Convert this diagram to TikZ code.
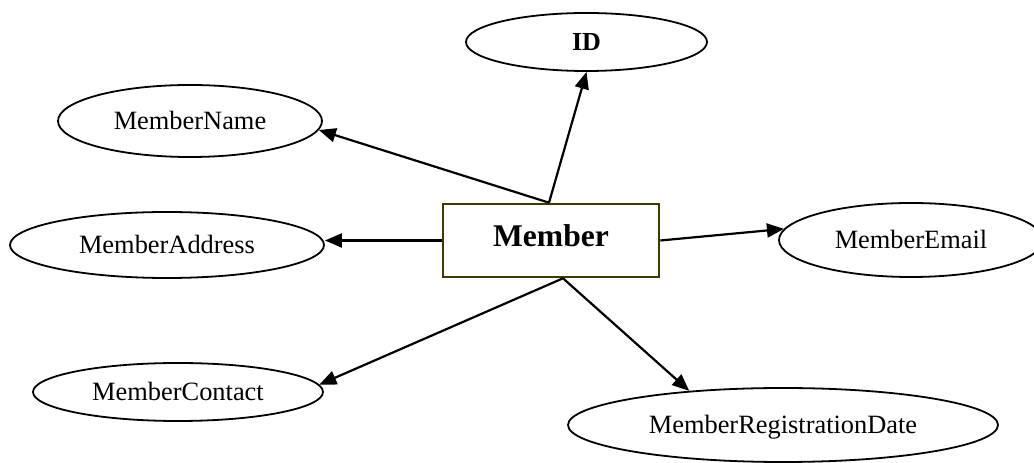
\documentclass[tikz,border=0pt]{standalone}
\usepackage{fontspec}
\setmainfont{Liberation Serif}
\usetikzlibrary{shapes.geometric,arrows.meta,calc}
\definecolor{entityborder}{RGB}{62,58,0}
\begin{document}
\begin{tikzpicture}[x=1pt,y=1pt,
  attr/.style n args={2}{draw=black, line width=1.8pt, ellipse, inner sep=0pt,
    minimum width=#1, minimum height=#2, text height=17.5pt, text depth=0pt,
    font=\fontsize{26.4}{30}\selectfont},
  entity/.style={draw=entityborder, line width=2.6pt, rectangle, inner sep=0pt,
    minimum width=216, minimum height=73, text height=20.9pt, text depth=8pt,
    font=\fontsize{31.6}{36}\selectfont\bfseries},
  link/.style={line width=2.2pt, -{Triangle[length=17pt,width=14pt]}}]
\useasboundingbox (0,0) rectangle (1034,463);

% entity and its attributes
\node[entity] (member) at (551,222.5) {Member};
\node[attr={241}{58}, font=\fontsize{26}{30}\selectfont\bfseries] (id) at (586.5,421) {ID};
\node[attr={264}{72}] (name) at (190,342) {MemberName};
\node[attr={314}{66}] (address) at (167,218) {MemberAddress};
\node[attr={264}{74}] (email) at (911,223) {MemberEmail};
\node[attr={290}{58}] (contact) at (178,71) {MemberContact};
\node[attr={430}{74}] (regdate) at (783,38) {MemberRegistrationDate};

% connectors
\draw[link] ($(member.north)+(-2,0)$) -- (id.south);
\draw[link] ($(member.north)+(-2,0)$) -- (name.-4);
\draw[link] (member.west) -- (member.west -| address.east);
\draw[link] (member.east) -- (email.175);
\draw[link] ($(member.south)+(12,0)$) -- (contact.3);
\draw[link] ($(member.south)+(12,0)$) -- (regdate.160);
\end{tikzpicture}
\end{document}
